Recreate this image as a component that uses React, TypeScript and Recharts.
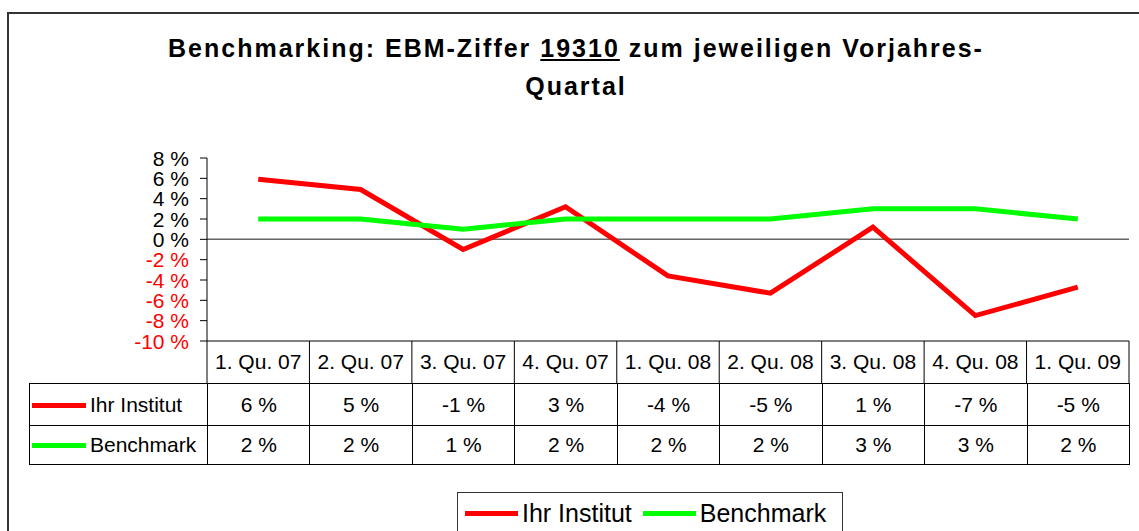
import { LineChart, Line, XAxis, YAxis, ReferenceLine, Legend } from 'recharts';

const quarters = ['1. Qu. 07', '2. Qu. 07', '3. Qu. 07', '4. Qu. 07', '1. Qu. 08', '2. Qu. 08', '3. Qu. 08', '4. Qu. 08', '1. Qu. 09'];
const ihrInstitut = [5.9, 4.9, -1.0, 3.2, -3.6, -5.3, 1.2, -7.5, -4.7];
const benchmark = [2, 2, 1, 2, 2, 2, 3, 3, 2];
const yTicks = [-10, -8, -6, -4, -2, 0, 2, 4, 6, 8];

const series = [
  { key: 'ihr', name: 'Ihr Institut', color: '#ff0000', values: ihrInstitut },
  { key: 'bench', name: 'Benchmark', color: '#00ff00', values: benchmark },
];

const FONT = 'Arial, "Liberation Sans", sans-serif';
const PLOT_LEFT = 207;
const PLOT_RIGHT = 1129;
const COL_W = (PLOT_RIGHT - PLOT_LEFT) / quarters.length;
const HEADER_H = 42;

const chartData = quarters.map((q, i) => ({ quarter: q, ihr: ihrInstitut[i], bench: benchmark[i] }));

const fmt = (v: number) => `${Math.round(v)} %`;

const ValueTick = ({ x, y, payload }: any) => (
  <text x={x} y={y} dy="0.36em" textAnchor="end" fontSize={21} fontFamily={FONT}
    fill={payload.value < 0 ? '#ff0000' : '#000'}>
    {`${payload.value} %`}
  </text>
);

const CategoryTick = ({ x, y, payload, index }: any) => {
  const half = COL_W / 2;
  return (
    <g>
      <text x={x} y={y + 28} textAnchor="middle" fontSize={21} fontFamily={FONT} fill="#000">{payload.value}</text>
      <line x1={x + half} x2={x + half} y1={y} y2={y + HEADER_H} stroke="#000" />
      {index === 0 && <line x1={x - half} x2={x - half} y1={y} y2={y + HEADER_H} stroke="#000" />}
    </g>
  );
};

const LegendBox = () => (
  <div style={{ border: '1px solid #333', width: 386, height: 50, display: 'flex', alignItems: 'flex-start', paddingTop: 6, boxSizing: 'border-box', fontFamily: FONT, fontSize: 25, background: '#fff' }}>
    {series.map((s, i) => (
      <div key={s.key} style={{ display: 'flex', alignItems: 'center', marginLeft: i === 0 ? 7 : 11 }}>
        <span style={{ display: 'inline-block', width: 53, height: 5, background: s.color, marginRight: 4 }} />
        <span>{s.name}</span>
      </div>
    ))}
  </div>
);

const cellStyle = { border: '1px solid #000', textAlign: 'center' as const, padding: 0 };

export default function App() {
  return (
    <div style={{ position: 'absolute', left: 0, top: 0, width: 1139, height: 531, overflow: 'hidden', background: '#fff', fontFamily: FONT }}>
      {/* outer frame, only the left and top edges fall inside the picture */}
      <div style={{ position: 'absolute', left: 7, top: 12, width: 1300, height: 700, borderLeft: '2px solid #333', borderTop: '2px solid #333', boxSizing: 'border-box' }} />

      <div style={{ position: 'absolute', left: 0, top: 29, width: 1152, textAlign: 'center', fontWeight: 'bold', fontSize: 25, letterSpacing: 2, lineHeight: '38px', color: '#000' }}>
        Benchmarking: EBM-Ziffer <u>19310</u> zum jeweiligen Vorjahres-<br />Quartal
      </div>

      <div style={{ position: 'absolute', left: 0, top: 0 }}>
        <LineChart width={1139} height={531} data={chartData} margin={{ top: 158, right: 1139 - PLOT_RIGHT, left: 0, bottom: 531 - 341 - HEADER_H }}>
          <XAxis dataKey="quarter" scale="band" interval={0} height={HEADER_H} tickLine={false} tickSize={0} tickMargin={0}
            axisLine={{ stroke: '#000' }} tick={<CategoryTick />} />
          <YAxis width={PLOT_LEFT} domain={[-10, 8]} ticks={yTicks} interval={0} tickSize={7} tickMargin={11}
            axisLine={{ stroke: '#000' }} tickLine={{ stroke: '#000' }} tick={<ValueTick />} />
          <ReferenceLine y={0} stroke="#666" strokeWidth={1.5} />
          {series.map(s => (
            <Line key={s.key} type="linear" dataKey={s.key} name={s.name} stroke={s.color} strokeWidth={5}
              dot={false} isAnimationActive={false} />
          ))}
          <Legend layout="vertical" align="center" verticalAlign="middle" content={<LegendBox />}
            wrapperStyle={{ left: 457, top: 492, width: 'auto', height: 'auto' }} />
        </LineChart>
      </div>

      <table style={{ position: 'absolute', left: 29, top: 383, borderCollapse: 'collapse', tableLayout: 'fixed', width: PLOT_RIGHT - 29, fontSize: 21, fontFamily: FONT }}>
        <colgroup>
          <col style={{ width: PLOT_LEFT - 29 }} />
          {quarters.map(q => <col key={q} style={{ width: COL_W }} />)}
        </colgroup>
        <tbody>
          {series.map((s, r) => (
            <tr key={s.key} style={{ height: r === 0 ? 42 : 39 }}>
              <td style={{ ...cellStyle, textAlign: 'left', whiteSpace: 'nowrap' }}>
                <span style={{ display: 'inline-block', width: 54, height: 5, background: s.color, verticalAlign: 'middle', marginLeft: 2, marginRight: 4 }} />
                <span style={{ verticalAlign: 'middle' }}>{s.name}</span>
              </td>
              {s.values.map((v, i) => (
                <td key={i} style={cellStyle}>{fmt(v)}</td>
              ))}
            </tr>
          ))}
        </tbody>
      </table>
    </div>
  );
}
